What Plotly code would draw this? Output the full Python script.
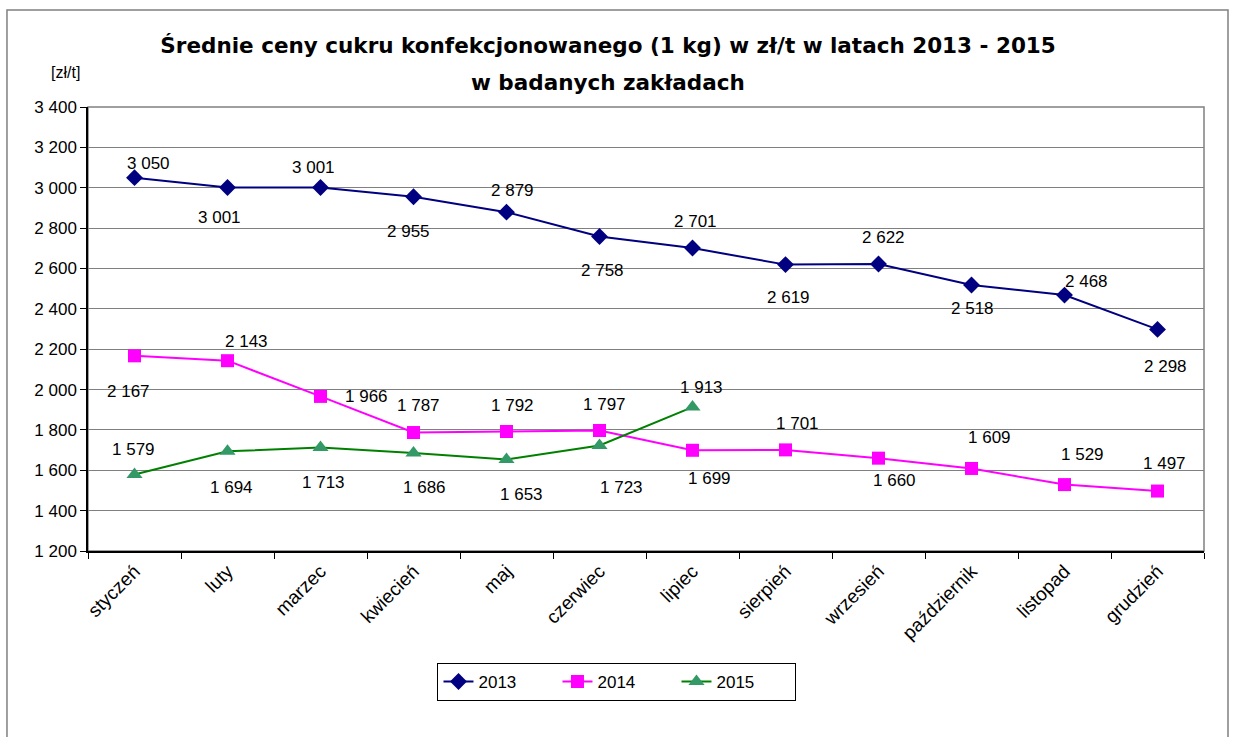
import plotly.graph_objects as go

months = ["styczeń", "luty", "marzec", "kwiecień", "maj", "czerwiec", "lipiec",
          "sierpień", "wrzesień", "październik", "listopad", "grudzień"]
v2013 = [3050, 3001, 3001, 2955, 2879, 2758, 2701, 2619, 2622, 2518, 2468, 2298]
v2014 = [2167, 2143, 1966, 1787, 1792, 1797, 1699, 1701, 1660, 1609, 1529, 1497]
v2015 = [1579, 1694, 1713, 1686, 1653, 1723, 1913]
y_ticks = [1200, 1400, 1600, 1800, 2000, 2200, 2400, 2600, 2800, 3000, 3200, 3400]

# label offsets (pixels) for data labels
off2013 = [(14, 14), (-8, -30), (-7, 20), (-5, -35), (6, 22), (3, -34),
           (3, 27), (3, -33), (5, 27), (1, -23), (22, 14), (8, -37)]
off2014 = [(-6, -36), (19, 19), (46, 0), (5, 27), (6, 26), (5, 26),
           (17, -28), (12, 26), (16, -22), (18, 31), (18, 30), (7, 28)]
off2015 = [(-1, 25), (4, -36), (3, -35), (11, -35), (15, -35), (22, -42), (9, 20)]

FONT = "Liberation Sans, Arial, sans-serif"
TFONT = "DejaVu Sans, sans-serif"

def fmt(v):
    return f"{v:,}".replace(",", " ")

fig = go.Figure()
fig.add_trace(go.Scatter(x=months, y=v2013, name="2013", mode="lines+markers",
                         line=dict(color="#000080", width=2),
                         marker=dict(symbol="diamond", size=13, color="#000080")))
fig.add_trace(go.Scatter(x=months, y=v2014, name="2014", mode="lines+markers",
                         line=dict(color="#FF00FF", width=2),
                         marker=dict(symbol="square", size=13, color="#FF00FF")))
fig.add_trace(go.Scatter(x=months[:len(v2015)], y=v2015, name="2015", mode="lines+markers",
                         line=dict(color="#008000", width=2),
                         marker=dict(symbol="triangle-up", size=14, color="#339966")))

annotations = []
for vals, offs in ((v2013, off2013), (v2014, off2014), (v2015, off2015)):
    for m, v, (dx, dy) in zip(months, vals, offs):
        annotations.append(dict(x=m, y=v, text=fmt(v), showarrow=False,
                                xshift=dx, yshift=dy,
                                font=dict(family=FONT, size=17, color="#000000")))
annotations.append(dict(xref="paper", yref="paper", x=-0.005, y=1.055,
                        xanchor="right", yanchor="bottom", text="[zł/t]", showarrow=False,
                        font=dict(family=FONT, size=16, color="#000000")))
annotations.append(dict(xref="paper", yref="paper", x=0.466, y=(551 - 82) / 444,
                        xanchor="center", yanchor="middle", text="<b>w badanych zakładach</b>",
                        showarrow=False,
                        font=dict(family=TFONT, size=21.5, color="#000000")))

shapes = [
    # outer chart border
    dict(type="rect", xref="paper", yref="paper", x0=-0.0726, x1=1.0215,
         y0=-0.45, y1=1.2185, line=dict(color="#808080", width=1.5)),
    # plot area border
    dict(type="rect", xref="paper", yref="paper", x0=0, x1=1, y0=0, y1=1,
         line=dict(color="#808080", width=1.5), layer="below"),
]

fig.update_layout(
    width=1234, height=737,
    margin=dict(l=88, r=30, t=107, b=186),
    paper_bgcolor="white", plot_bgcolor="white",
    separators=", ",
    title=dict(text="<b>Średnie ceny cukru konfekcjonowanego (1 kg) w zł/t w latach 2013 - 2015</b>",
               x=0.466, xref="paper", xanchor="center", y=1 - 45 / 737, yref="container",
               yanchor="middle",
               font=dict(family=TFONT, size=21.5, color="#000000")),
    font=dict(family=FONT, size=17, color="#000000"),
    showlegend=True,
    legend=dict(orientation="h", x=0.474, xanchor="center", y=-0.252, yanchor="top",
                bordercolor="#000000", borderwidth=1, bgcolor="white",
                font=dict(family=FONT, size=17, color="#000000"),
                entrywidth=74, entrywidthmode="pixels"),
    annotations=annotations,
    shapes=shapes,
)
fig.update_xaxes(type="category", range=[-0.5, 11.5], tickangle=-45, showgrid=False,
                 showline=True, linecolor="#000000", linewidth=1.5,
                 ticks="outside", tickson="boundaries", ticklen=6, tickcolor="#000000",
                 tickfont=dict(family=FONT, size=19, color="#000000"))
fig.update_yaxes(range=[1200, 3400], tickvals=y_ticks, tickformat=",d",
                 showgrid=True, gridcolor="#808080", gridwidth=1,
                 showline=True, linecolor="#000000", linewidth=1.5,
                 ticks="outside", ticklen=6, tickcolor="#000000", zeroline=False,
                 tickfont=dict(family=FONT, size=17, color="#000000"))

fig.write_html("out.html", config={"displayModeBar": False},
               post_script="document.body.style.margin='0';")
